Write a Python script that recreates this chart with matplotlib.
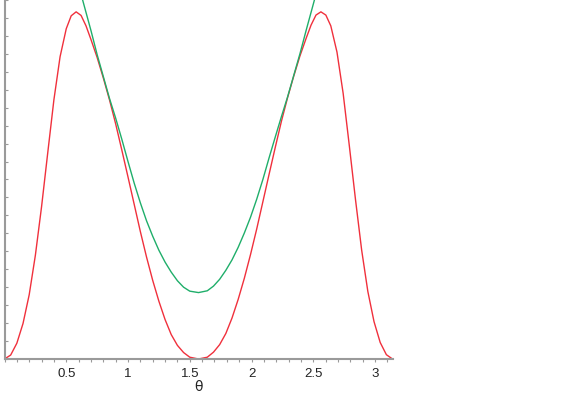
import numpy as np
import matplotlib
matplotlib.use("Agg")
import matplotlib.pyplot as plt
from matplotlib.ticker import MultipleLocator

# values (theta, height), left lobe then right lobe
theta_red = [0.00, 0.05, 0.10, 0.15, 0.20, 0.25, 0.30, 0.35, 0.40, 0.45,
             0.50, 0.54, 0.58, 0.62, 0.66, 0.70, 0.75, 0.80, 0.85, 0.90,
             0.95, 1.00, 1.05, 1.10, 1.15, 1.20, 1.25, 1.30, 1.35, 1.40,
             1.45, 1.50, 1.571,
             1.642, 1.692, 1.742, 1.792, 1.842, 1.892, 1.942, 1.992, 2.042,
             2.092, 2.142, 2.192, 2.242, 2.292, 2.342, 2.392, 2.442, 2.482,
             2.522, 2.562, 2.602, 2.642, 2.692, 2.742, 2.792, 2.842, 2.892,
             2.942, 2.992, 3.042, 3.092, 3.1416]
red = [0.000, 0.011, 0.044, 0.099, 0.179, 0.289, 0.424, 0.574, 0.722, 0.842,
       0.920, 0.956, 0.967, 0.957, 0.928, 0.890, 0.840, 0.783, 0.722, 0.655,
       0.582, 0.507, 0.431, 0.355, 0.284, 0.219, 0.161, 0.110, 0.068, 0.038,
       0.018, 0.005, 0.000,
       0.005, 0.019, 0.040, 0.071, 0.114, 0.166, 0.225, 0.291, 0.362,
       0.438, 0.514, 0.589, 0.662, 0.728, 0.788, 0.844, 0.893, 0.930,
       0.958, 0.967, 0.958, 0.928, 0.855, 0.740, 0.594, 0.444, 0.303,
       0.188, 0.104, 0.046, 0.012, 0.000]

theta_green = [0.62, 0.65, 0.70, 0.75, 0.80, 0.85, 0.90, 0.95, 1.00, 1.05,
               1.10, 1.15, 1.20, 1.25, 1.30, 1.35, 1.40, 1.45, 1.50, 1.571,
               1.642, 1.692, 1.742, 1.792, 1.842, 1.892, 1.942, 1.992, 2.042,
               2.092, 2.142, 2.192, 2.242, 2.292, 2.342, 2.392, 2.442, 2.492,
               2.522]
green = [1.016, 0.978, 0.915, 0.848, 0.787, 0.726, 0.671, 0.612, 0.550, 0.490,
         0.435, 0.385, 0.342, 0.303, 0.270, 0.242, 0.218, 0.200, 0.189, 0.185,
         0.190, 0.203, 0.222, 0.247, 0.276, 0.311, 0.351, 0.395, 0.445,
         0.500, 0.560, 0.618, 0.675, 0.730, 0.790, 0.850, 0.915, 0.978,
         1.016]

xticks = [0.5, 1, 1.5, 2, 2.5, 3]
xticklabels = ["0.5", "1", "1.5", "2", "2.5", "3"]

plt.rcParams['font.family'] = ['Liberation Sans', 'DejaVu Sans']

fig = plt.figure(figsize=(5.61, 4.15), dpi=100)
ax = fig.add_axes([4.5 / 561, 56 / 415, 388 / 561, 359 / 415])

ax.plot(theta_red, red, color='#f0303c', lw=1.0)
ax.plot(theta_green, green, color='#1fae6a', lw=1.0)

ax.set_xlim(0, np.pi)
ax.set_ylim(0, 1)

for s in ['top', 'right']:
    ax.spines[s].set_visible(False)
for s in ['left', 'bottom']:
    ax.spines[s].set_color('#9a9a9a')
    ax.spines[s].set_linewidth(1.5)

ax.set_xticks(xticks)
ax.set_xticklabels(xticklabels)
ax.xaxis.set_minor_locator(MultipleLocator(0.1))
ax.yaxis.set_major_locator(MultipleLocator(0.05))
ax.set_yticklabels([])
ax.tick_params(axis='x', which='both', direction='out', length=2.5, width=0.8,
               color='#9a9a9a', labelsize=9.5, pad=4, labelcolor='#222222')
ax.tick_params(axis='y', which='both', direction='in', length=2, width=0.8,
               color='#9a9a9a')

ax.set_xlabel("θ", fontsize=10, labelpad=0, color='#222222', family=['DejaVu Sans'])

fig.savefig("out.png", dpi=100)
